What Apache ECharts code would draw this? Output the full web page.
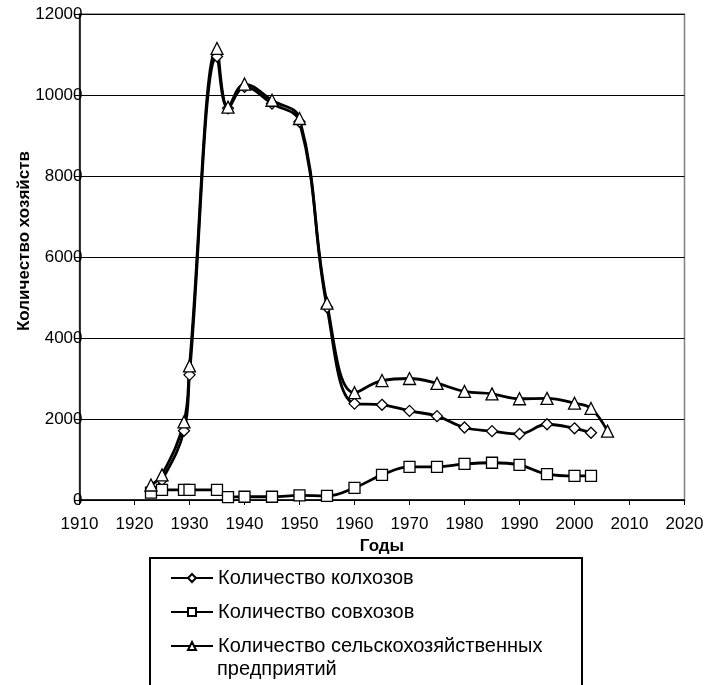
<!DOCTYPE html>
<html>
<head>
<meta charset="utf-8">
<script src="https://cdn.jsdelivr.net/npm/echarts@6/dist/echarts.min.js"></script>
<style>
html, body { margin: 0; padding: 0; background: #fff; }
#chart { width: 713px; height: 685px; }
</style>
</head>
<body>
<div id="chart"></div>
<script>
// данные
const kolkhozYears = [1923, 1925, 1929, 1930, 1935, 1937, 1940, 1945, 1950, 1955, 1960, 1965, 1970, 1975, 1980, 1985, 1990, 1995, 2000, 2003];
const kolkhozValues = [200, 490, 1710, 3090, 10950, 9670, 10200, 9790, 9340, 4760, 2380, 2350, 2200, 2070, 1790, 1700, 1630, 1870, 1770, 1660];

const sovkhozYears = [1923, 1925, 1929, 1930, 1935, 1937, 1940, 1945, 1950, 1955, 1960, 1965, 1970, 1975, 1980, 1985, 1990, 1995, 2000, 2003];
const sovkhozValues = [180, 250, 250, 250, 250, 70, 80, 80, 115, 100, 300, 620, 820, 820, 890, 920, 865, 640, 595, 595];

const enterpriseYears = [1923, 1925, 1929, 1930, 1935, 1937, 1940, 1945, 1950, 1955, 1960, 1965, 1970, 1975, 1980, 1985, 1990, 1995, 2000, 2003, 2006];
const enterpriseValues = [370, 620, 1930, 3310, 11150, 9700, 10270, 9870, 9420, 4860, 2650, 2950, 3000, 2880, 2680, 2620, 2500, 2510, 2390, 2260, 1700];

const seriesNames = ['Количество колхозов', 'Количество совхозов', 'Количество сельскохозяйственных предприятий'];

const FONT = 'Liberation Sans';

function pairs(xs, ys) {
    return xs.map((x, i) => [x, ys[i]]);
}

const chart = echarts.init(document.getElementById('chart'));

function lineSeries(name, xs, ys, symbol, size) {
    return {
        name: name,
        type: 'line',
        data: pairs(xs, ys),
        smooth: 0.4,
        symbol: symbol,
        symbolSize: size,
        showAllSymbol: true,
        lineStyle: { color: '#000', width: 2.8 },
        itemStyle: { color: '#fff', borderColor: '#000', borderWidth: 1.3 },
        emphasis: { disabled: true },
        animation: false
    };
}

const option = {
    animation: false,
    grid: {
        left: 79.5, right: 28.5, top: 14, bottom: 185,
        show: true, borderColor: '#808080', borderWidth: 1.5, backgroundColor: 'transparent'
    },
    xAxis: {
        type: 'value',
        min: 1910, max: 2020, interval: 10,
        name: 'Годы',
        nameLocation: 'middle',
        nameGap: 38,
        nameMoveOverlap: false,
        nameTextStyle: { fontFamily: FONT, fontSize: 17, fontWeight: 'bold', color: '#000' },
        axisLine: { onZero: false, lineStyle: { color: '#000', width: 1.5 } },
        axisTick: { show: true, length: 5, lineStyle: { color: '#000' } },
        axisLabel: { fontFamily: FONT, fontSize: 17, color: '#000', margin: 16, formatter: v => String(v) },
        splitLine: { show: false }
    },
    yAxis: {
        type: 'value',
        min: 0, max: 12000, interval: 2000,
        name: 'Количество хозяйств',
        nameLocation: 'middle',
        nameGap: 47,
        nameMoveOverlap: false,
        nameRotate: 90,
        nameTextStyle: { fontFamily: FONT, fontSize: 17, fontWeight: 'bold', color: '#000', padding: [0, 0, 0, 32] },
        axisLine: { show: true, lineStyle: { color: '#000', width: 1.5 } },
        axisTick: { show: true, length: 5, lineStyle: { color: '#000' } },
        axisLabel: { fontFamily: FONT, fontSize: 17, color: '#000', margin: -3, formatter: v => String(v) },
        splitLine: { show: true, lineStyle: { color: '#000', width: 1 } }
    },
    legend: {
        orient: 'vertical',
        left: 165,
        top: 561,
        itemWidth: 42,
        itemHeight: 10,
        itemGap: 10,
        data: seriesNames,
        formatter: function (name) {
            return name === seriesNames[2] ? 'Количество сельскохозяйственных' : name;
        },
        textStyle: { fontFamily: FONT, fontSize: 20, color: '#000', lineHeight: 24 },
        selectedMode: false
    },
    graphic: [
        {
            type: 'rect',
            shape: { x: 150, y: 558, width: 432, height: 200 },
            style: { fill: 'none', stroke: '#000', lineWidth: 2 },
            silent: true
        },
        {
            type: 'text',
            left: 217,
            top: 659,
            style: { text: 'предприятий', font: '20px "Liberation Sans"', fill: '#000' },
            silent: true
        }
    ],
    series: [
        lineSeries(seriesNames[0], kolkhozYears, kolkhozValues, 'diamond', 11),
        lineSeries(seriesNames[1], sovkhozYears, sovkhozValues, 'rect', 11),
        lineSeries(seriesNames[2], enterpriseYears, enterpriseValues, 'triangle', 12)
    ]
};

chart.setOption(option);
</script>
</body>
</html>
